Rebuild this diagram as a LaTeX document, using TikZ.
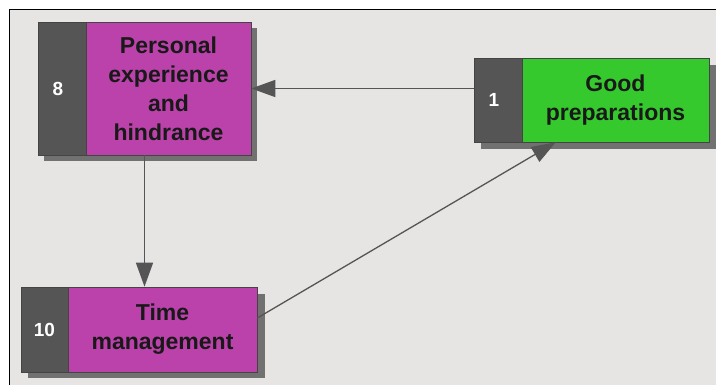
\documentclass[tikz,border=0pt]{standalone}
\usepackage{fontspec}
\setmainfont{Liberation Sans}
\usetikzlibrary{arrows.meta,calc}
\definecolor{bg}{HTML}{E6E5E3}
\definecolor{mag}{HTML}{BA42AA}
\definecolor{grn}{HTML}{36C92E}
\definecolor{darkc}{HTML}{555555}
\definecolor{shadc}{HTML}{717171}
\definecolor{linec}{HTML}{555555}
\begin{document}
\begin{tikzpicture}[x=1pt,y=-1pt,
  numbox/.style={draw=darkc!80!black,line width=0.6pt,fill=darkc,inner sep=0pt,text=white,
    font=\fontsize{19pt}{22pt}\selectfont\bfseries},
  txtbox/.style={draw=darkc!80!black,line width=0.6pt,inner sep=0pt,align=center,text=black!90,
    font=\fontsize{23pt}{29pt}\selectfont\bfseries},
  conn/.style={draw=linec,line width=1.3pt,-{Triangle[length=24pt,width=17pt]}},
  shad/.style={fill=shadc}]
\useasboundingbox (0,0) rectangle (716,385);
\fill[white] (0,0) rectangle (716,385);
\fill[bg] (9.5,10) rectangle (716,385);
\draw[black,line width=1pt] (9.5,385) -- (9.5,10) -- (716,10);
% shadows
\fill[shad] (44,28) rectangle (257,161);
\fill[shad] (481,65) rectangle (716,149);
\fill[shad] (28,294) rectangle (265,378);
% box 8
\node[numbox,minimum width=48pt,minimum height=133pt] (d8) at (62,88.5) {\hspace*{-8pt}8};
\node[txtbox,fill=mag,minimum width=165pt,minimum height=133pt] (pe) at (168.5,88.5)
  {Personal\\experience\\and\\hindrance};
% box 1
\node[numbox,minimum width=48pt,minimum height=84pt] (d1) at (498,100) {\hspace*{-8pt}1};
\node[txtbox,fill=grn,minimum width=187pt,minimum height=84pt] (gp) at (615.5,100)
  {Good\\preparations};
% box 10
\node[numbox,minimum width=47pt,minimum height=85pt] (d10) at (44.5,329.5) {10};
\node[txtbox,fill=mag,minimum width=189pt,minimum height=85pt] (tm) at (162.5,329.5)
  {Time\\management};
% connectors
\coordinate (pebot) at ($(d8.south west)!0.5!(pe.south east)$);
\draw[conn] (d1.west |- pe.east) -- (pe.east);
\draw[conn] (pebot) -- (pebot |- tm.north);
\draw[conn] ($(tm.east)+(0,-11.5)$) -- ($(gp.south west)+(34,0)$);
\end{tikzpicture}
\end{document}
